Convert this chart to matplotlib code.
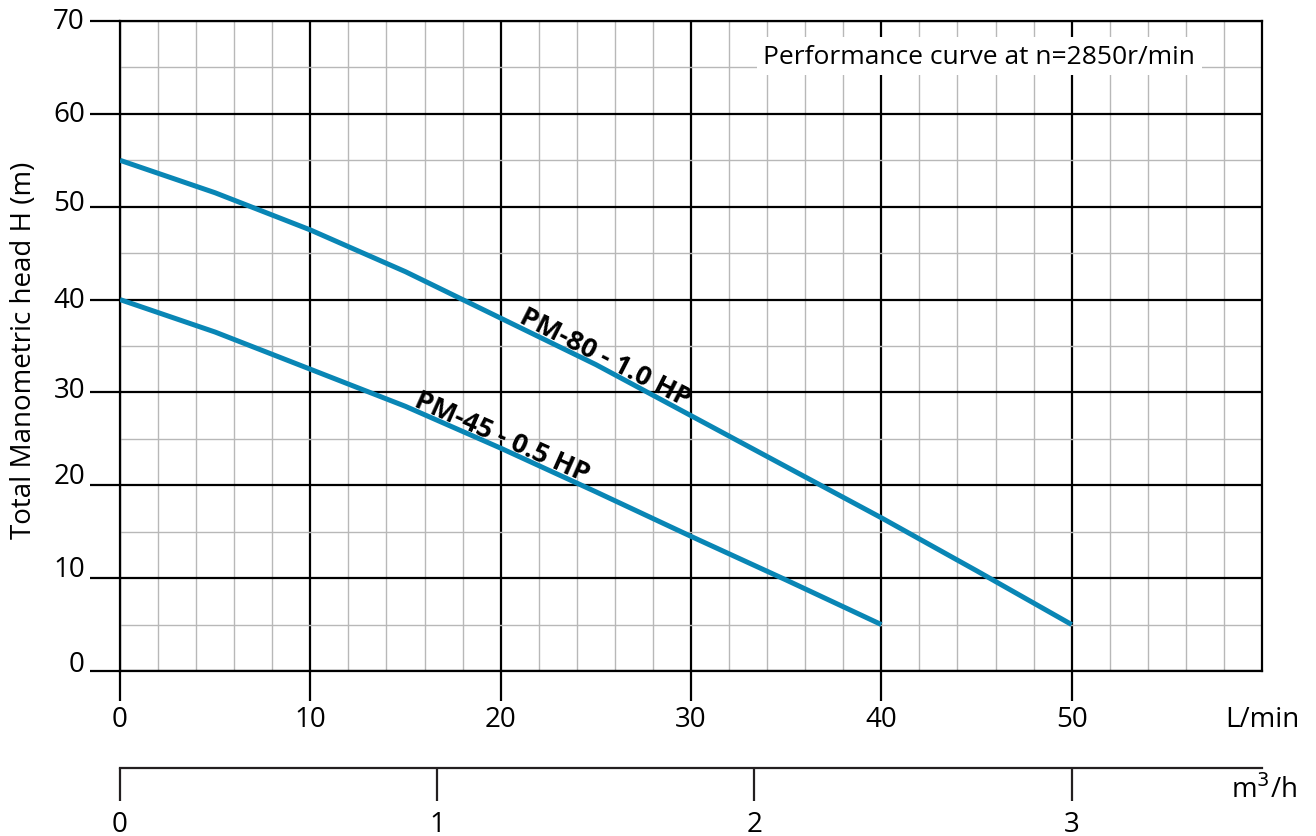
import matplotlib
matplotlib.use('Agg')
import matplotlib.pyplot as plt
from matplotlib.ticker import MultipleLocator, NullFormatter

# ---- data ----
flow_pm80 = [0, 5, 10, 15, 20, 25, 30, 35, 40, 45, 50]
head_pm80 = [55, 51.5, 47.5, 43, 38, 33, 27.5, 22, 16.5, 10.8, 5]
flow_pm45 = [0, 5, 10, 15, 20, 25, 30, 35, 40]
head_pm45 = [40, 36.5, 32.5, 28.5, 24, 19.3, 14.5, 9.8, 5]
x_ticks = [0, 10, 20, 30, 40, 50]
y_ticks = [0, 10, 20, 30, 40, 50, 60, 70]
y_tick_labels = ['0', '10', '20', '30', '40', '50', '60', '70']
y_label_lift_px = [7, 9, 9, 2, 0, 4, 0, 0]
m3h_ticks = [0, 1, 2, 3]
label_pm80 = "PM-80 - 1.0 HP"
label_pm45 = "PM-45 - 0.5 HP"
title_text = "Performance curve at n=2850r/min"
ylabel_text = "Total Manometric head H (m)"

plt.rcParams['font.family'] = ['Open Sans', 'DejaVu Sans']

W, H = 1316, 837
fig = plt.figure(figsize=(W / 100, H / 100), dpi=100)
ax = fig.add_axes([120 / W, 1 - 672 / H, 1142 / W, 650 / H])
ax.set_xlim(0, 60)
ax.set_ylim(0, 70)
ax.set_xticks(x_ticks)
ax.set_yticks(y_ticks)
ax.yaxis.set_major_formatter(NullFormatter())
ax.xaxis.set_minor_locator(MultipleLocator(2))
ax.yaxis.set_minor_locator(MultipleLocator(5))
ax.grid(which='minor', color='#b8b8b8', lw=1.0)
ax.grid(which='major', color='black', lw=1.6)
ax.set_axisbelow(True)
ax.tick_params(which='major', length=21.5, width=1.6, direction='out',
               labelsize=20, pad=3, color='black')
ax.tick_params(which='minor', length=0)
for s in ax.spines.values():
    s.set_linewidth(1.6)

# y tick labels drawn as text so each can sit like in the source
for v, lab, lift in zip(y_ticks, y_tick_labels, y_label_lift_px):
    ax.annotate(lab, xy=(0, v), xycoords=('axes fraction', 'data'),
                xytext=(-35, lift), textcoords='offset pixels',
                ha='right', va='center', fontsize=20, annotation_clip=False)

blue = '#0986b5'
ax.plot(flow_pm80, head_pm80, color=blue, lw=3.6, solid_capstyle='butt',
        solid_joinstyle='round', zorder=3)
ax.plot(flow_pm45, head_pm45, color=blue, lw=3.6, solid_capstyle='butt',
        solid_joinstyle='round', zorder=3)

ax.text(25.5, 33.8, label_pm80, rotation=-27, rotation_mode='anchor',
        ha='center', va='center', fontsize=19.5, fontweight='bold', zorder=4)
ax.text(20.07, 25.2, label_pm45, rotation=-24, rotation_mode='anchor',
        ha='center', va='center', fontsize=19.5, fontweight='bold', zorder=4)

ax.text(45.14, 66.2, title_text, ha='center', va='center', fontsize=19, zorder=4,
        bbox=dict(facecolor='white', edgecolor='none', boxstyle='square,pad=0.25'))

xt = ax.get_xaxis_transform()
ax.text(60, (672 - 720) / 650, 'L/min', transform=xt, ha='center', va='center',
        fontsize=20, clip_on=False)
ax.text(60.1, (672 - 790) / 650, 'm$^3$/h', transform=xt, ha='center', va='center',
        fontsize=20, clip_on=False)

sec = ax.secondary_xaxis(-97 / 650, functions=(lambda x: x * 0.06, lambda x: x / 0.06))
sec.set_xticks(m3h_ticks)
sec.tick_params(length=24, width=1.6, color='#231f20', labelsize=20, pad=6)
for s in sec.spines.values():
    s.set_linewidth(1.6)
    s.set_color('#231f20')

fig.text(24 / W, 1 - 350 / H, ylabel_text, rotation=90, ha='center', va='center',
         fontsize=20)

fig.savefig('out.png', dpi=100)
